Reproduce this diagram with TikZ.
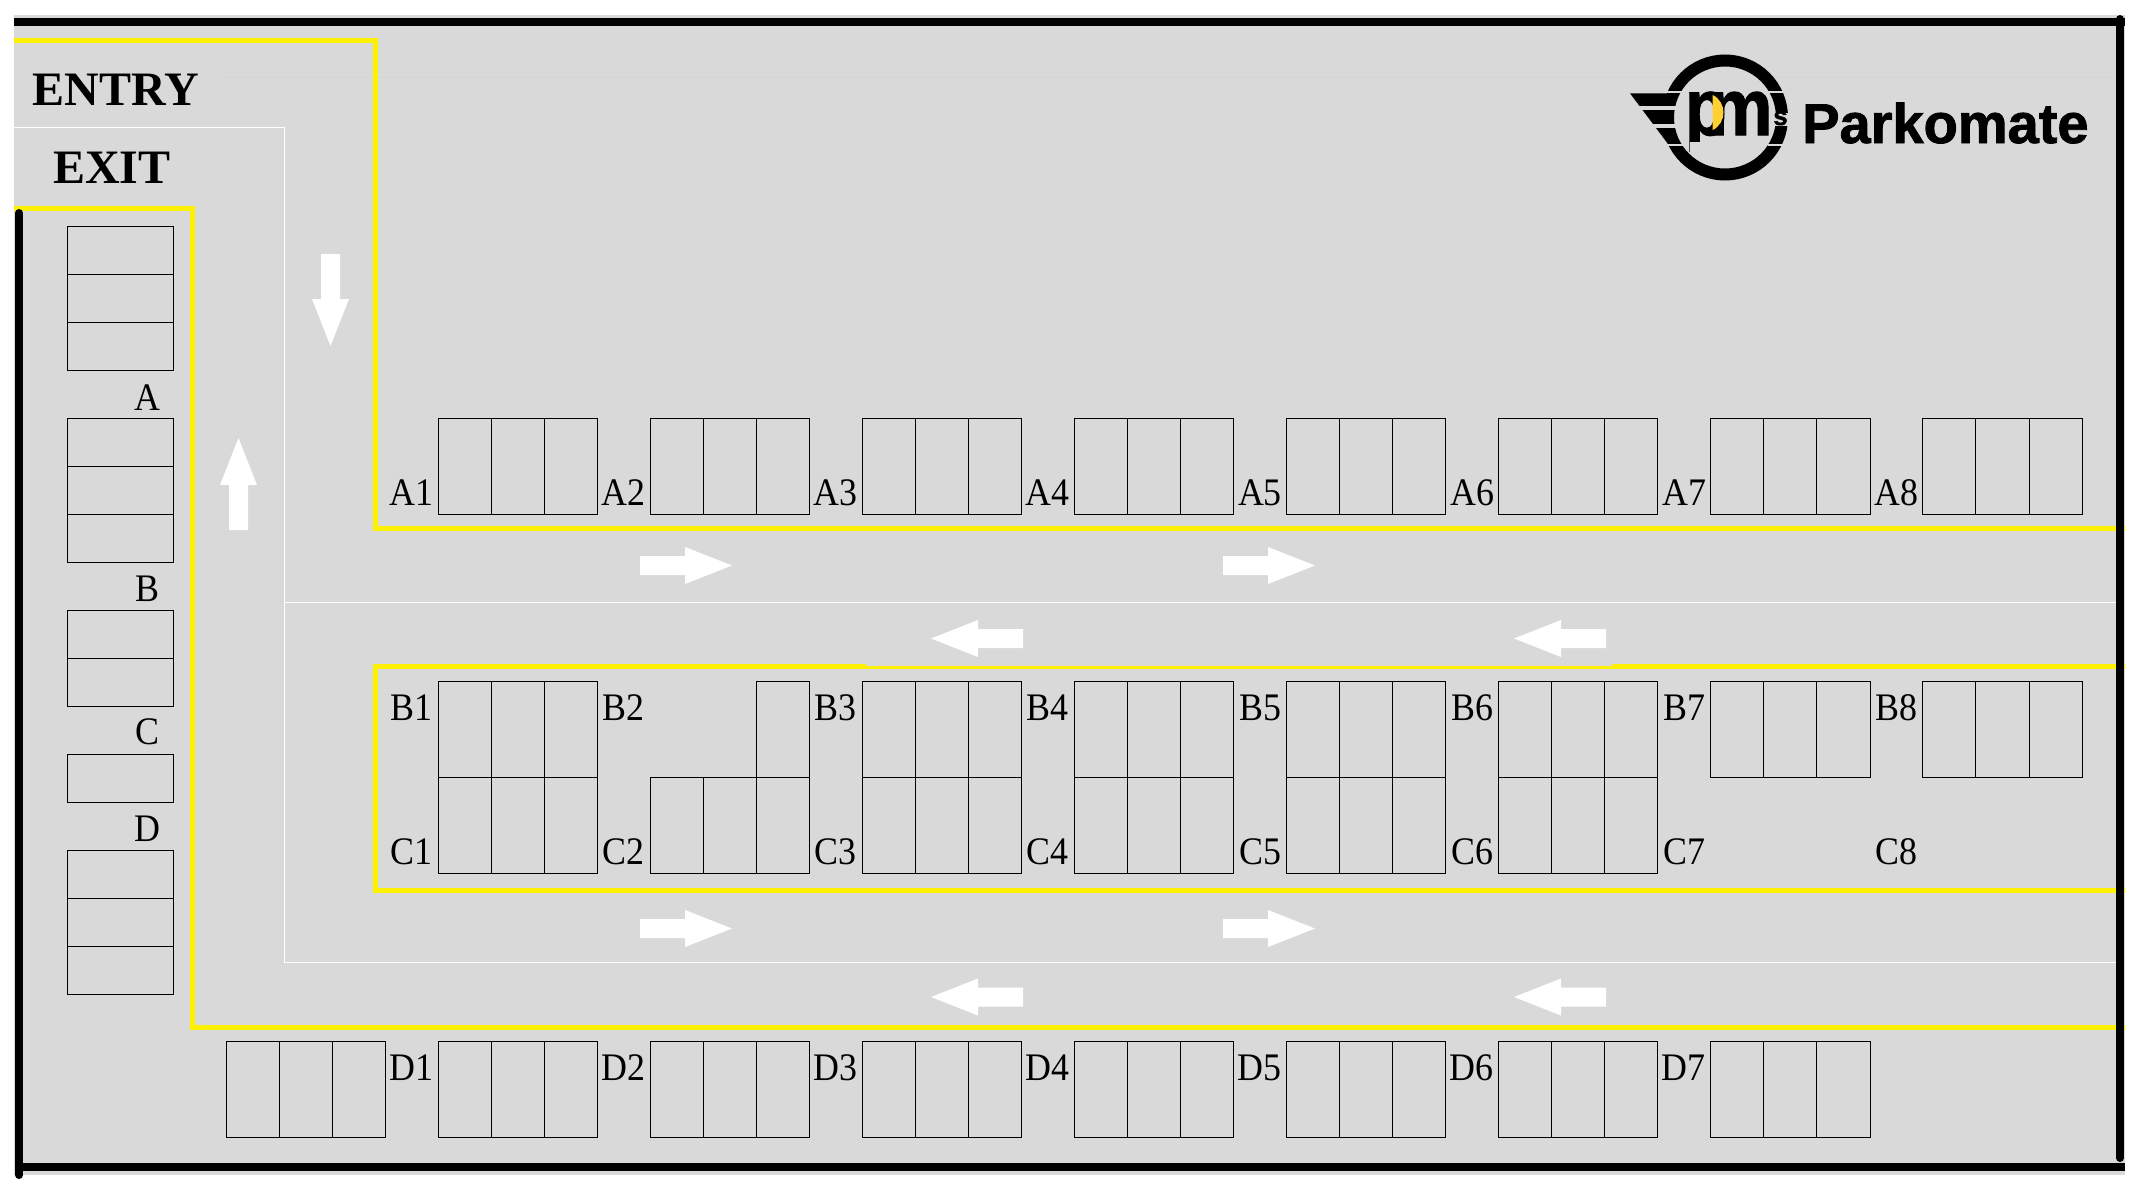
\documentclass[tikz,border=0pt]{standalone}
\usepackage{fontspec}
\setmainfont{Liberation Serif}
\newfontfamily\logofont[BoldFeatures={FakeBold=1.5}]{Liberation Sans}
\definecolor{floorgray}{HTML}{D9D9D9}
\definecolor{lane}{HTML}{FFF200}
\definecolor{moon}{HTML}{FFD033}
\definecolor{faint}{HTML}{D4D4D4}
\tikzset{
  x=1pt,y=-1pt,
  wall/.style={line width=8pt,black},
  laneline/.style={line width=5pt,lane,miter limit=10},
  whiteline/.style={line width=1pt,white},
  stall/.style={draw=black,line width=1pt,fill=none},
  slabel/.style={inner sep=0pt,anchor=base,font=\fontsize{39}{41}\selectfont},
  gate/.style={inner sep=0pt,anchor=base,font=\fontsize{48}{50}\selectfont\bfseries},
  logotext/.style={inner sep=0pt,anchor=base west,font=\logofont\bfseries\fontsize{56}{58}\selectfont},
  logoletter/.style={inner sep=0pt,anchor=base,font=\logofont\bfseries\fontsize{80}{84}\selectfont},
  gapband/.style={fill=floorgray,draw=none},
  flowarrow/.pic={\fill[white] (0,-9.5)--(45,-9.5)--(45,-18.5)--(92,0)--(45,18.5)--(45,9.5)--(0,9.5)--cycle;}
}
\newcommand{\hstalls}[3]{% x, y, n stalls
  \foreach \s in {1,...,#3}{\draw[stall] ({#1+53.1*(\s-1)},#2) rectangle ({#1+53.1*\s},{#2+96});}}
\newcommand{\vstalls}[2]{% y, n stalls
  \foreach \s in {1,...,#2}{\draw[stall] (67.5,{#1+48*(\s-1)}) rectangle (173.5,{#1+48*\s});}}
\newcommand{\slim}[1]{\scalebox{0.92}[1]{#1}}
\begin{document}
\begin{tikzpicture}
\useasboundingbox (0,0) rectangle (2135,1186);
\fill[white] (0,0) rectangle (2135,1186);
\fill[floorgray] (14,15) rectangle (2125,1175);
\draw[faint,line width=0.7pt] (222,77) -- (2116,77);
% white lane markings
\draw[whiteline] (14,127.5) -- (284.5,127.5) -- (284.5,962) -- (2116,962);
\draw[whiteline] (284.5,602) -- (2116,602);
% yellow lines
\draw[laneline] (14,40) -- (375,40) -- (375,528.5) -- (2125,528.5);
\draw[laneline] (14,208) -- (192.5,208) -- (192.5,1027.5) -- (2125,1027.5);
\draw[laneline] (866,666.5) -- (375,666.5) -- (375,890) -- (2125,890);
\draw[lane,line width=3pt] (866,667.6) -- (1614,667.6);
\draw[laneline] (1612,666.5) -- (2125,666.5);
% walls
\draw[wall] (14,22) -- (2125,22);
\draw[wall,line cap=round] (2120,19) -- (2120,1158);
\draw[wall] (15,1167) -- (2125,1167);
\draw[wall,line cap=round] (19,213) -- (19,1175);
\fill[black] (15,1167) rectangle (23,1175);
% left column
\vstalls{226}{3}
\vstalls{418}{3}
\vstalls{610}{2}
\vstalls{754}{1}
\vstalls{850.5}{3}
\foreach \t/\yy in {A/410,B/601,C/744,D/841}
  \node[slabel] (col\t) at (147.5,\yy) {\slim{\t}};
% row A
\foreach \k in {1,...,8}{
  \hstalls{226+212.1*\k}{418}{3}
  \node[slabel] (A\k) at ({226+212.1*\k-26.5},505) {\slim{A\k}};
}
% row B
\foreach \k in {1,...,8}{
  \ifnum\k=2
    \draw[stall] ({226+212.1*2+106.2},681) rectangle ({226+212.1*2+159.3},777);
  \else
    \hstalls{226+212.1*\k}{681}{3}
  \fi
  \node[slabel] (B\k) at ({226+212.1*\k-26.5},720) {\slim{B\k}};
  \node[slabel] (C\k) at ({226+212.1*\k-26.5},864) {\slim{C\k}};
}
% row C
\foreach \k in {1,...,6}{\hstalls{226+212.1*\k}{777}{3}}
% row D
\foreach \k in {0,...,7}{\hstalls{226+212.1*\k}{1041}{3}}
\foreach \k in {1,...,7}{
  \node[slabel] (D\k) at ({226+212.1*\k-27},1080) {\slim{D\k}};
}
% gates
\node[gate] (entry) at (116,105) {ENTRY};
\node[gate] (exit) at (112,183) {EXIT};
% arrows
\pic[rotate=-90] at (330.5,254) {flowarrow};
\pic[rotate=90] at (238.5,530) {flowarrow};
\foreach \xx in {640,1223}{
  \pic at (\xx,565.5) {flowarrow};
  \pic at (\xx,928.5) {flowarrow};
}
\foreach \xx in {1023,1606}{
  \pic[rotate=180] at (\xx,638.5) {flowarrow};
  \pic[rotate=180] at (\xx,997) {flowarrow};
}
% logo
\fill[black] (1630,93.3) -- (1690,93.3) -- (1690,144) -- (1668,144) -- cycle;
\draw[black,line width=12pt,fill=floorgray] (1725,117.5) circle (57);
\fill[gapband] (1625,90.7) rectangle (1686,93.3);
\fill[gapband] (1625,106) rectangle (1686,109.5);
\fill[gapband] (1625,124) rectangle (1686,128);
\fill[gapband] (1640,144) rectangle (1686,146);
\fill[gapband] (1768,90.7) rectangle (1795,93.3);
\fill[gapband] (1768,112.5) rectangle (1795,126);
\fill[gapband] (1768,144) rectangle (1795,146);
\node[logoletter] (logop) at (1706,135) {\scalebox{0.85}[1]{p}};
\fill[gapband] (1689.5,142) rectangle (1712,153.5);
\node[logoletter] (logom) at (1740.5,135) {\scalebox{0.9}[1]{m}};
\fill[moon] (1712.7,95) .. controls (1727,102) and (1727,123) .. (1712.7,130) -- cycle;
\node[inner sep=0pt,anchor=base,font=\logofont\bfseries\fontsize{26}{28}\selectfont] (logos) at (1780.5,125) {s};
\node[logotext] (parkomate) at (1802,143) {Parkomate};
\end{tikzpicture}
\end{document}
